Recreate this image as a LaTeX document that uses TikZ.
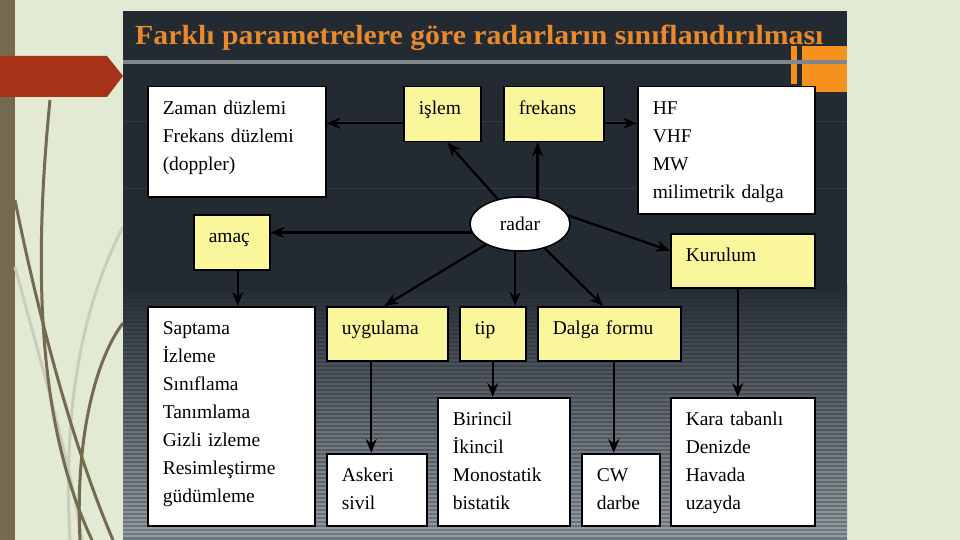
\documentclass[tikz,border=0pt]{standalone}
\usepackage{fontspec}
\setmainfont{Liberation Serif}
\usetikzlibrary{arrows.meta,shapes.geometric,calc}
\definecolor{slideBg}{RGB}{227,234,212}
\definecolor{oliveD}{RGB}{115,106,80}
\definecolor{oliveL}{RGB}{200,206,186}
\definecolor{brick}{RGB}{168,50,24}
\definecolor{panelD}{RGB}{35,42,50}
\definecolor{panelL}{RGB}{112,120,128}
\definecolor{faintG}{RGB}{50,57,65}
\definecolor{ruleG}{RGB}{128,134,141}
\definecolor{titleO}{RGB}{232,137,43}
\definecolor{barO}{RGB}{247,145,30}
\definecolor{boxY}{RGB}{250,246,155}

\newcommand{\boxfont}{\fontsize{19.5}{28}\selectfont}

\begin{document}
\begin{tikzpicture}[x=1pt, y=-1pt, >={Stealth[length=14pt,width=11pt]},
  bx/.style={draw=black, line width=1.5pt, anchor=north west, inner xsep=15pt,
             inner ysep=0pt, align=left, text height=28pt, font=\boxfont},
  wbox/.style 2 args={bx, fill=white, minimum width=#1pt, text width=#1pt-30pt,
             text depth=#2pt-28pt},
  ybox/.style 2 args={bx, fill=boxY, minimum width=#1pt, text width=#1pt-30pt,
             text depth=#2pt-28pt},
  arr/.style={->, line width=2.2pt},
  curveD/.style={oliveD, line width=3pt},
  curveL/.style={oliveL, line width=3pt}]
  \useasboundingbox (0,0) rectangle (960,540);
  % slide background
  \fill[slideBg] (0,0) rectangle (960,540);
  \fill[oliveD] (0,0) rectangle (15,540);
  \draw[curveL] (123,227) .. controls (85,300) and (62,400) .. (70,540);
  \draw[curveL] (15,267) .. controls (40,360) and (70,460) .. (82,540);
  \draw[curveD] (50,100) .. controls (32,280) and (40,430) .. (92,540);
  \draw[curveD] (15,200) .. controls (35,300) and (70,440) .. (113,540);
  \draw[curveD] (123,323) .. controls (95,360) and (75,440) .. (80,540);
  % panel
  \fill[panelD] (123,11) rectangle (847,540);
  \shade[top color=panelD, bottom color=panelL] (123,285) rectangle (847,540);
  \foreach \yy [evaluate=\yy as \op using (\yy-285)/900] in {292,296,...,536}
    \draw[white, opacity=\op, line width=1.2pt] (123,\yy) -- (847,\yy);
  \draw[faintG, line width=1pt] (123,122) -- (847,122) (123,188) -- (847,188);
  \fill[brick] (0,56) -- (107,56) -- (123,76) -- (107,97) -- (0,97) -- cycle;
  \node[anchor=base west, inner sep=0pt, text=titleO,
        font=\bfseries\fontsize{27.7}{30}\selectfont] (title) at (135,45)
        {\scalebox{1.075}[1]{Farklı parametrelere göre radarların sınıflandırılması}};
  \fill[barO] (791,46) rectangle (797,84);
  \fill[barO] (802,46) rectangle (847,92);
  \fill[ruleG] (123,60) rectangle (847,64);

  % boxes
  \node[wbox={178}{110}] (zaman) at (147,86) {Zaman düzlemi\\Frekans düzlemi\\(doppler)};
  \node[ybox={77}{55}] (islem) at (403,86) {işlem};
  \node[ybox={100}{55}] (frekans) at (503,86) {frekans};
  \node[wbox={177}{127}] (bant) at (637,86) {HF\\VHF\\MW\\milimetrik dalga};
  \node[ybox={76}{55}] (amac) at (193,214) {amaç};
  \node[draw=black, line width=1.5pt, fill=white, ellipse, inner sep=0pt,
        minimum width=100pt, minimum height=54pt, font=\boxfont] (radar) at (520,224) {radar};
  \node[ybox={144}{54}] (kurulum) at (670,233) {Kurulum};
  \node[wbox={167}{219}] (gorev) at (147,306)
    {Saptama\\İzleme\\Sınıflama\\Tanımlama\\Gizli izleme\\Resimleştirme\\güdümleme};
  \node[ybox={121}{54}] (uygulama) at (326,306) {uygulama};
  \node[ybox={66}{54}] (tip) at (459,306) {tip};
  \node[ybox={143}{54}] (dalga) at (537,306) {Dalga formu};
  \node[wbox={100}{72}] (askeri) at (326,453) {Askeri\\sivil};
  \node[wbox={132}{128}] (birincil) at (437,397) {Birincil\\İkincil\\Monostatik\\bistatik};
  \node[wbox={78}{72}] (cw) at (581,453) {CW\\darbe};
  \node[wbox={144}{128}] (kara) at (670,397) {Kara tabanlı\\Denizde\\Havada\\uzayda};

  % connectors
  \draw[arr] ([yshift=-9pt]islem.west) -- ([yshift=-9pt]islem.west -| zaman.east);
  \draw[arr] ([yshift=-9pt]frekans.east) -- ([yshift=-9pt]frekans.east -| bant.west);
  \draw[arr] (radar) -- ([xshift=5pt]islem.south);
  \draw[arr] (radar.56) -- (radar.56 |- frekans.south);
  \draw[arr] (radar.190) -- (radar.190 -| amac.east);
  \draw[arr] (radar.10) -- ([yshift=10pt]kurulum.west);
  \draw[arr] (radar) -- ([xshift=-3pt]uygulama.north);
  \draw[arr] (radar.260) -- (radar.260 |- tip.north);
  \draw[arr] (radar) -- ([xshift=-6pt]dalga.north);
  \draw[arr] ([xshift=6pt]amac.south) -- ([xshift=6pt]amac.south |- gorev.north);
  \draw[arr] ([xshift=-5pt]kurulum.south) -- ([xshift=-5pt]kurulum.south |- kara.north);
  \draw[arr] ([xshift=-16pt]uygulama.south) -- ([xshift=-16pt]uygulama.south |- askeri.north);
  \draw[arr] (tip.south) -- (tip.south |- birincil.north);
  \draw[arr] ([xshift=4.5pt]dalga.south) -- ([xshift=4.5pt]dalga.south |- cw.north);
\end{tikzpicture}
\end{document}
